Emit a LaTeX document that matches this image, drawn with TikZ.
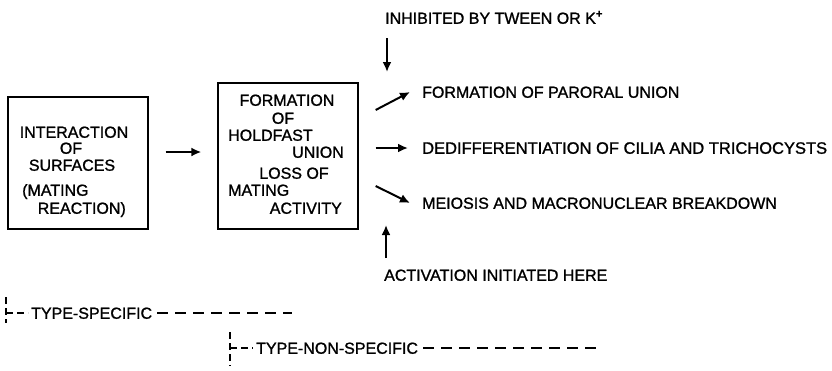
\documentclass[tikz,border=0pt]{standalone}
\usepackage{fontspec}
\setmainfont{Liberation Sans}[FakeBold=1.2]
\usetikzlibrary{arrows.meta,positioning}

\begin{document}
\begin{tikzpicture}[x=1pt, y=-1pt, >={Latex[length=10pt,width=9pt]},
  every node/.style={font=\fontsize{16}{18}\selectfont, inner sep=0pt, text height=11.5pt, text depth=0pt},
  box/.style={draw, line width=1.3pt, minimum width=140pt},
  flow/.style={->, line width=2pt},
  typeline/.style={line width=1.2pt, dash pattern=on 11pt off 7pt},
  typetick/.style={line width=1.2pt, dash pattern=on 7pt off 4pt}]
\useasboundingbox (0,0) rectangle (832,370);

% boxes
\node[box, minimum height=132pt] (surf) at (78,163) {};
\node[box, minimum height=146pt] (hold) at (288,156) {};

\node (s1) at (74,132) {INTERACTION};
\node (s2) at (71,148) {OF};
\node (s3) at (72,165) {SURFACES};
\node[anchor=west] (s4) at (22,190) {(MATING};
\node[anchor=east] (s5) at (126,208) {REACTION)};

\node (h1) at (287,100) {FORMATION};
\node (h2) at (283,118) {OF};
\node[anchor=west] (h3) at (228,135) {HOLDFAST};
\node[anchor=east] (h4) at (344,152) {UNION};
\node (h5) at (294,173) {LOSS OF};
\node[anchor=west] (h6) at (228,190) {MATING};
\node[anchor=east] (h7) at (342,208) {ACTIVITY};

% outcomes
\node[anchor=west] (pu) at (422,92) {FORMATION OF PARORAL UNION};
\node[anchor=west, font=\fontsize{16.5}{18}\selectfont] (dc) at (422,148) {DEDIFFERENTIATION OF CILIA AND TRICHOCYSTS};
\node[anchor=west] (mb) at (422,203) {MEIOSIS AND MACRONUCLEAR BREAKDOWN};

\node[anchor=west] (inh) at (385,18) {INHIBITED BY TWEEN OR K\textsuperscript{\bfseries +}};
\node[anchor=west] (act) at (384,275) {ACTIVATION INITIATED HERE};
\coordinate (blk) at (387,72);
\coordinate (trg) at (386,225);

\draw[flow] ([yshift=11pt]surf.east) ++(17,0) -- ([shift={(-16pt,4pt)}]hold.west);
\draw[flow] ([shift={(17pt,46pt)}]hold.east) -- ([xshift=-12pt]pu.west);
\draw[flow] ([shift={(17pt,8pt)}]hold.east) -- ([xshift=-14pt]dc.west);
\draw[flow] ([shift={(17pt,-30pt)}]hold.east) -- ([xshift=-12pt]mb.west);
\draw[flow] ([shift={(2pt,-20pt)}]inh.west) -- (blk);
\draw[flow] ([shift={(2pt,17pt)}]act.west) -- (trg);

% type ranges
\node[anchor=west] (ts) at (31,313) {TYPE-SPECIFIC};
\node[anchor=west] (tn) at (256,348) {TYPE-NON-SPECIFIC};
\coordinate (ts0) at (6,313);
\coordinate (ts1) at (292,313);
\coordinate (tn0) at (230,348);
\coordinate (tn1) at (597,348);
\draw[typetick] ([yshift=16pt]ts0) -- ([yshift=-10pt]ts0);
\draw[typetick] (ts0) -- ([xshift=-3pt]ts.west);
\draw[typeline] ([xshift=5pt]ts.east) -- (ts1);
\draw[typetick] ([yshift=16pt]tn0) -- ([yshift=-18pt]tn0);
\draw[typetick] (tn0) -- ([xshift=-3pt]tn.west);
\draw[typeline] ([xshift=5pt]tn.east) -- (tn1);
\end{tikzpicture}
\end{document}
